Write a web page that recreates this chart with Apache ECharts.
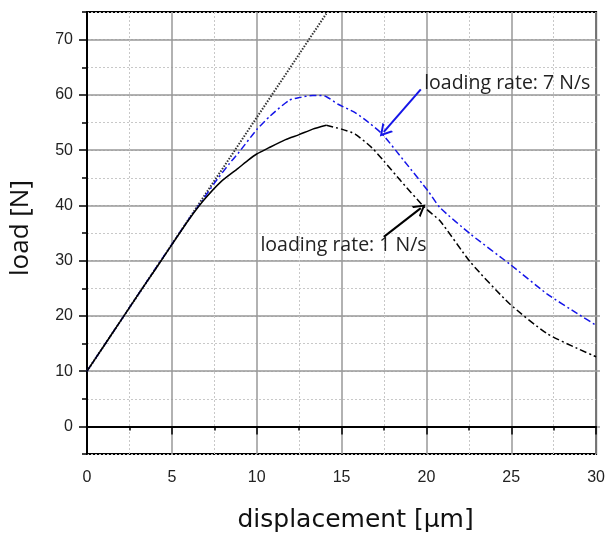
<!DOCTYPE html>
<html>
<head>
<meta charset="utf-8">
<script src="https://cdn.jsdelivr.net/npm/echarts@6/dist/echarts.min.js"></script>
<style>html,body{margin:0;padding:0;background:#fff;}#c{width:608px;height:539px;}</style>
</head>
<body>
<div id="c"></div>
<script>
// ---- data ----
const tangentLine = [[0, 10], [14.1, 74.7]];
const rate1Rising = [[0,10],[1,14.6],[2,19.2],[3,23.8],[4,28.3],[5,32.9],[6,37.4],[6.9,41],[7.9,44.3],[8.9,46.7],[9.5,48.2],[10,49.3],[10.7,50.4],[11.7,51.9],[12.5,52.8],[13.3,53.8],[14.1,54.5]];
const rate1Falling = [[14.1,54.5],[15,53.8],[15.8,52.9],[16.8,50.4],[17.5,48],[18.5,44.4],[19.9,39.6],[20.8,37.2],[22.6,29.7],[24.9,22.2],[27.1,16.8],[28.9,14.1],[30,12.6]];
const rate7 = [[0,10],[2,19.2],[4,28.4],[6,37.5],[6.8,40.9],[7.5,44],[8.4,47.6],[8.9,49.4],[10,53.7],[10.8,56.2],[11.9,59],[12.5,59.5],[13.3,59.9],[14,59.8],[14.8,58.3],[15.8,56.8],[16.6,55],[17.4,52.9],[18.7,48],[20.1,42.6],[20.8,39.6],[22.6,34.8],[24.9,29.4],[27.1,24],[28.9,20.4],[30,18.3]];
const xTicks = [0, 5, 10, 15, 20, 25, 30];
const yTicks = [0, 10, 20, 30, 40, 50, 60, 70];
const label7Text = 'loading rate: 7 N/s';
const label1Text = 'loading rate: 1 N/s';
const label7Pos = [19.87, 62.15];
const label1Pos = [10.22, 32.83];
const arrow7 = [[19.67, 61.0], [17.49, 53.3]];
const arrow1 = [[17.49, 34.3], [19.67, 39.5]];

const chevron = 'path://M0,10 L5,0 L10,10 L8.4,10 L5,3.2 L1.6,10 Z';
const tickFont = { fontFamily: 'Liberation Sans', fontSize: 16, color: '#222' };

const chart = echarts.init(document.getElementById('c'), null, { renderer: 'canvas' });
const unit = (454 - 12) / 80;
const option = {
  animation: false,
  backgroundColor: '#fff',
  grid: [
    { left: 87, right: 8, top: 12, bottom: 85, show: true, borderColor: '#000', borderWidth: 2, backgroundColor: 'transparent' },
    { left: 87, right: 8, top: 12 + 5 * unit, bottom: 85 + 5 * unit }
  ],
  xAxis: [
    {
      gridIndex: 0, type: 'value', min: xTicks[0], max: xTicks[xTicks.length - 1], interval: 5,
      axisLine: { lineStyle: { color: '#000', width: 2 } },
      axisTick: { show: true, length: 8, lineStyle: { color: '#000', width: 1.5 } },
      minorTick: { show: true, splitNumber: 2, length: 4, lineStyle: { color: '#000', width: 1.5 } },
      splitLine: { show: true, lineStyle: { color: '#999', width: 1.5 } },
      minorSplitLine: { show: true, lineStyle: { color: '#c8c8c8', width: 1, type: [2, 2] } },
      axisLabel: Object.assign({ margin: 16 }, tickFont),
      name: 'displacement [μm]', nameLocation: 'middle', nameGap: 54,
      nameTextStyle: { fontFamily: 'DejaVu Sans', fontSize: 25, color: '#111', padding: [0, 0, 0, 28] }
    },
    { gridIndex: 1, type: 'value', min: 0, max: 30, show: false }
  ],
  yAxis: [
    {
      gridIndex: 0, type: 'value', min: -5, max: 75, interval: 5,
      axisLine: { lineStyle: { color: '#000', width: 2 } },
      axisTick: { show: true, length: 5, lineStyle: { color: '#000', width: 1.5 } },
      splitLine: { show: true, lineStyle: { color: '#c8c8c8', width: 1, type: [2, 2] } },
      axisLabel: { show: false },
      name: 'load [N]', nameLocation: 'middle', nameGap: 53, nameRotate: 90,
      nameTextStyle: { fontFamily: 'Open Sans', fontSize: 26, color: '#111', padding: [0, 0, 0, 10] }
    },
    {
      gridIndex: 1, type: 'value', min: yTicks[0], max: yTicks[yTicks.length - 1], interval: 10,
      axisLine: { show: false },
      axisTick: { show: true, length: 8, lineStyle: { color: '#000', width: 1.5 } },
      splitLine: { show: true, lineStyle: { color: '#999', width: 1.5 } },
      axisLabel: Object.assign({ margin: 14 }, tickFont)
    }
  ],
  series: [
    {
      name: 'tangent', type: 'line', xAxisIndex: 0, yAxisIndex: 0, data: tangentLine,
      showSymbol: false, lineStyle: { color: '#333', width: 2, type: [1.5, 1.5] }, z: 3
    },
    {
      name: 'rate 7', type: 'line', xAxisIndex: 0, yAxisIndex: 0, data: rate7,
      showSymbol: false, smooth: 0.2,
      lineStyle: { color: '#1515e8', width: 1.5, type: [7, 3, 2, 3] }, z: 4,
      markLine: {
        silent: true, symbol: ['none', chevron], symbolSize: [14, 12],
        label: { show: false },
        lineStyle: { color: '#1515e8', width: 2, type: 'solid' },
        data: [[{ coord: arrow7[0] }, { coord: arrow7[1] }]]
      }
    },
    {
      name: 'rate 1 rising', type: 'line', xAxisIndex: 0, yAxisIndex: 0, data: rate1Rising,
      showSymbol: false, smooth: 0.2,
      lineStyle: { color: '#000', width: 1.5 }, z: 5
    },
    {
      name: 'rate 1 falling', type: 'line', xAxisIndex: 0, yAxisIndex: 0, data: rate1Falling,
      showSymbol: false, smooth: 0.2,
      lineStyle: { color: '#000', width: 1.5, type: [7, 3, 2, 3] }, z: 5,
      markLine: {
        silent: true, symbol: ['none', chevron], symbolSize: [14, 12],
        label: { show: false },
        lineStyle: { color: '#000', width: 2, type: 'solid' },
        data: [[{ coord: arrow1[0] }, { coord: arrow1[1] }]]
      }
    }
  ]
};
chart.setOption(option);
const p7 = chart.convertToPixel({ gridIndex: 0 }, label7Pos);
const p1 = chart.convertToPixel({ gridIndex: 0 }, label1Pos);
const textStyle = { fontFamily: 'Open Sans', fontSize: 19.5, fill: '#222' };
chart.setOption({
  graphic: [
    { type: 'text', x: p7[0], y: p7[1], z: 10, style: Object.assign({ text: label7Text, verticalAlign: 'middle' }, textStyle) },
    { type: 'text', x: p1[0], y: p1[1], z: 10, style: Object.assign({ text: label1Text, verticalAlign: 'middle' }, textStyle) }
  ]
});
</script>
</body>
</html>
